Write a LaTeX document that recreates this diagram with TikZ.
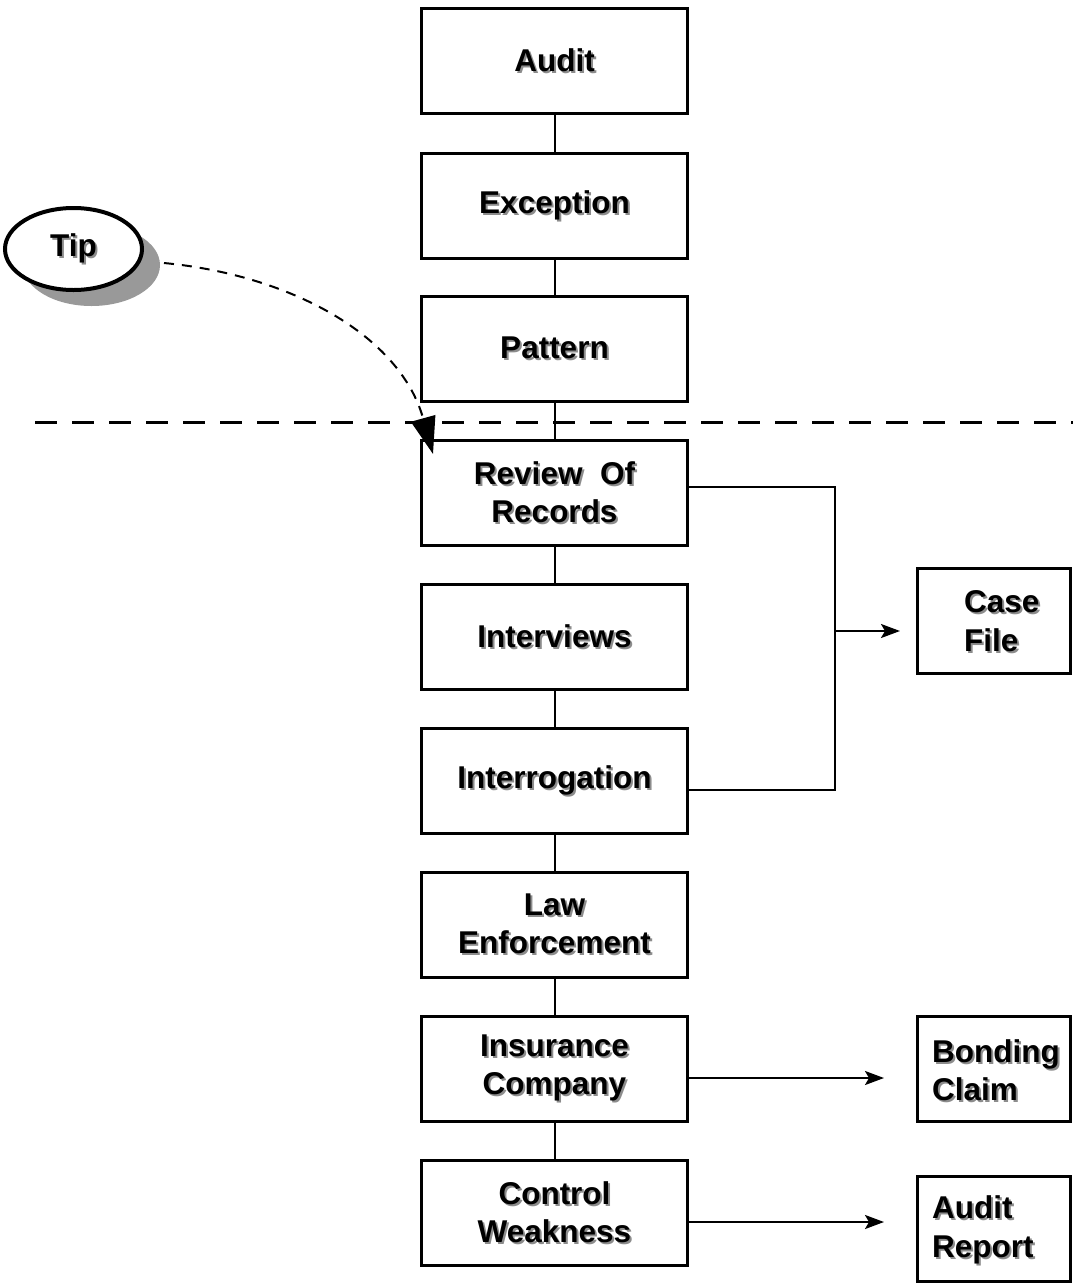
\documentclass[tikz,border=0pt]{standalone}
\usepackage{fontspec}
\setmainfont{Liberation Sans}
\usetikzlibrary{arrows.meta,shapes.geometric,shadows}
\definecolor{shadowgray}{HTML}{999999}
\definecolor{textshadow}{HTML}{8C8C8C}
\newcommand{\sh}[1]{\leavevmode\rlap{\kern2pt\raisebox{-2pt}{\textcolor{textshadow}{#1}}}#1}
\begin{document}
\begin{tikzpicture}[x=1pt,y=-1pt,
  txt/.style={font=\fontsize{31.5}{38.5}\selectfont\bfseries},
  box/.style={draw, line width=3pt, minimum width=266pt, minimum height=105pt,
    inner sep=0pt, align=center, txt, fill=white},
  sidebox/.style={draw, line width=3pt, minimum width=153pt, minimum height=105pt,
    inner sep=0pt, fill=white},
  conn/.style={line width=2pt},
  arr/.style={line width=2pt, -{Stealth[length=19pt,width=14pt,inset=4pt]}}]
\useasboundingbox (0,0) rectangle (1073,1286);

% main column
\node[box] (audit)   at (554.5,61)   {\sh{Audit}};
\node[box] (except)  at (554.5,206)  {\sh{Exception}};
\node[box] (pattern) at (554.5,349)  {\sh{Pattern}};
\node[box] (review)  at (554.5,493)  {\sh{Review\ \ Of}\\\sh{Records}};
\node[box] (interv)  at (554.5,637)  {\sh{Interviews}};
\node[box] (interr)  at (554.5,781)  {\sh{Interrogation}};
\node[box] (law)     at (554.5,925)  {\sh{Law}\\\sh{Enforcement}};
\node[box] (insur)   at (554.5,1069) {\sh{Insurance}\\\sh{Company}};
\node[box] (control) at (554.5,1213) {\sh{Control}\\\sh{Weakness}};

% side boxes
\node[sidebox] (case)   at (994,621)  {};
\node[txt, align=left, anchor=west, inner sep=0pt] (casetxt) at (964,622) {\sh{Case}\\\sh{File}};
\node[sidebox] (bond)   at (994,1069) {};
\node[txt, align=left, anchor=west, inner sep=0pt] (bondtxt) at (932,1071) {\sh{Bonding}\\\sh{Claim}};
\node[sidebox] (report) at (994,1229) {};
\node[txt, align=left, anchor=west, inner sep=0pt] (reporttxt) at (932,1231) {\sh{Audit}\\\sh{Report}};

% vertical connectors
\draw[conn] (audit) -- (except);
\draw[conn] (except) -- (pattern);
\draw[conn] (pattern) -- (review);
\draw[conn] (review) -- (interv);
\draw[conn] (interv) -- (interr);
\draw[conn] (interr) -- (law);
\draw[conn] (law) -- (insur);
\draw[conn] (insur) -- (control);

% bracket to case file
\coordinate (junc) at (835,631);
\draw[conn] ([yshift=6pt]review.east) -| (junc) |- ([yshift=-9pt]interr.east);
\draw[arr, shorten >=16pt] (junc) -- (junc -| case.west);

% arrows to bonding claim and audit report
\draw[arr, shorten >=32pt] ([yshift=-9pt]insur.east) -- ([yshift=-9pt]insur.east -| bond.west);
\draw[arr, shorten >=32pt] ([yshift=-9pt]control.east) -- ([yshift=-9pt]control.east -| report.west);

% horizontal dashed divider
\coordinate (dl) at (35,422);
\coordinate (dr) at (1073,422);
\draw[line width=3pt, dash pattern=on 22pt off 15pt] (dl) -- (dr);

% Tip ellipse
\node[ellipse, draw, line width=4pt, fill=white, minimum width=137pt, minimum height=82pt,
  inner sep=0pt, txt,
  drop shadow={shadow xshift=18pt, shadow yshift=-16pt, fill=shadowgray, opacity=1}]
  (tip) at (73.5,249) {\raisebox{-4pt}{\sh{Tip}}};

% dashed curved arrow
\coordinate (tipend) at (433,454);
\draw[line width=2pt, dash pattern=on 10pt off 8pt,
  -{Triangle[length=37pt,width=25pt]}]
  ([xshift=20pt,yshift=-14pt]tip.east) .. controls (290,275) and (400,335) .. (tipend);
\end{tikzpicture}
\end{document}
